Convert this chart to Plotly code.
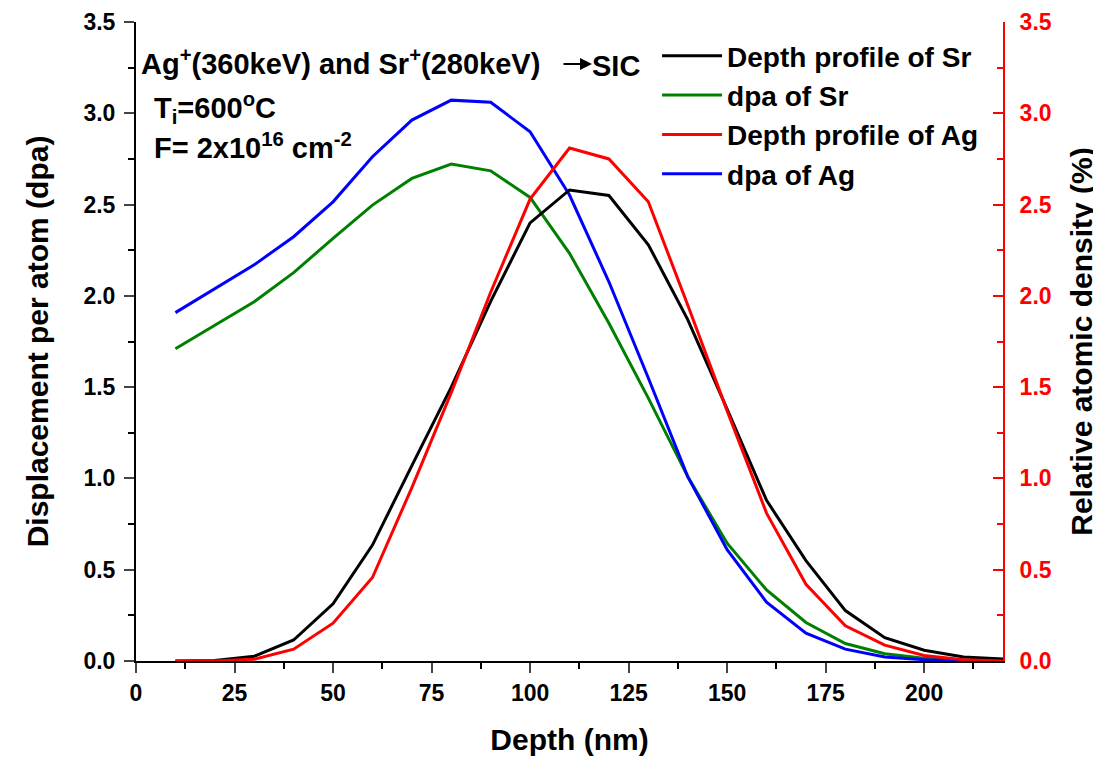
import plotly.graph_objects as go

depth = [10, 20, 30, 40, 50, 60, 70, 80, 90, 100, 110, 120, 130, 140, 150, 160, 170, 180, 190, 200, 210, 220]
sr_profile = [0.0, 0.003, 0.026, 0.115, 0.313, 0.635, 1.07, 1.50, 1.97, 2.40, 2.58, 2.55, 2.28, 1.87, 1.38, 0.88, 0.55, 0.276, 0.128, 0.059, 0.022, 0.011]
sr_dpa = [1.71, 1.84, 1.968, 2.127, 2.315, 2.497, 2.643, 2.722, 2.685, 2.539, 2.233, 1.85, 1.44, 1.01, 0.645, 0.389, 0.211, 0.096, 0.04, 0.015, 0.004, 0.0]
ag_profile = [0.0, 0.0, 0.01, 0.065, 0.207, 0.457, 0.95, 1.47, 2.02, 2.53, 2.81, 2.75, 2.515, 1.95, 1.37, 0.81, 0.42, 0.193, 0.087, 0.03, 0.007, 0.0]
ag_dpa = [1.908, 2.04, 2.17, 2.324, 2.515, 2.762, 2.963, 3.072, 3.06, 2.899, 2.552, 2.077, 1.55, 1.01, 0.61, 0.322, 0.152, 0.065, 0.022, 0.007, 0.002, 0.0]

names = ["Depth profile of Sr", "dpa of Sr", "Depth profile of Ag", "dpa of Ag"]
FONT = "Liberation Sans, Arial, sans-serif"
LW = 3

fig = go.Figure()
fig.add_trace(go.Scatter(x=depth, y=sr_profile, mode="lines", name=names[0],
                         line=dict(color="black", width=LW), yaxis="y2"))
fig.add_trace(go.Scatter(x=depth, y=sr_dpa, mode="lines", name=names[1],
                         line=dict(color="#008000", width=LW), yaxis="y"))
fig.add_trace(go.Scatter(x=depth, y=ag_profile, mode="lines", name=names[2],
                         line=dict(color="#ff0000", width=LW), yaxis="y2"))
fig.add_trace(go.Scatter(x=depth, y=ag_dpa, mode="lines", name=names[3],
                         line=dict(color="#0000ff", width=LW), yaxis="y"))

tickfont = dict(family=FONT, size=23, color="black", weight="bold")

fig.update_layout(
    width=1093, height=751,
    margin=dict(l=128, r=98, t=14, b=98, autoexpand=False),
    paper_bgcolor="white", plot_bgcolor="white",
    font=dict(family=FONT, color="black"),
    xaxis=dict(
        range=[0, 220], tick0=0, dtick=25, ticks="outside", ticklen=10, tickwidth=2,
        minor=dict(dtick=12.5, ticks="outside", ticklen=6, tickwidth=2, tickcolor="black"),
        showline=True, linecolor="black", linewidth=2, showgrid=False, zeroline=False,
        tickfont=tickfont, automargin=False,
        title=dict(text="<b>Depth (nm)</b>", font=dict(family=FONT, size=30), standoff=24),
    ),
    xaxis2=dict(
        range=[0, 220], overlaying="x", side="top", tick0=0, dtick=22, ticks="inside",
        ticklen=7, tickwidth=2, showticklabels=False, showline=True, linecolor="black",
        linewidth=2, showgrid=False, zeroline=False, automargin=False,
    ),
    yaxis=dict(
        range=[0, 3.5], tick0=0, dtick=0.5, tickformat=".1f", ticks="outside", ticklen=10,
        tickwidth=2, minor=dict(dtick=0.25, ticks="outside", ticklen=6, tickwidth=2, tickcolor="black"),
        showline=True, linecolor="black", linewidth=2, showgrid=False, zeroline=False,
        tickfont=tickfont, automargin=False, ticklabelstandoff=4,
        title=dict(text="<b>Displacement per atom (dpa)</b>", font=dict(family=FONT, size=30), standoff=26),
    ),
    yaxis2=dict(
        range=[0, 3.5], overlaying="y", side="right", tick0=0, dtick=0.5, tickformat=".1f",
        ticks="inside", ticklen=10, tickwidth=2, tickcolor="red",
        minor=dict(dtick=0.25, ticks="inside", ticklen=6, tickwidth=2, tickcolor="red"),
        showline=True, linecolor="red", linewidth=2, showgrid=False, zeroline=False,
        tickfont=dict(family=FONT, size=23, color="red", weight="bold"), automargin=False,
        ticklabelstandoff=10,
        title=dict(text="<b>Relative atomic density (%)</b>", font=dict(family=FONT, size=30, color="black"), standoff=20),
    ),
    legend=dict(
        x=0.601, y=0.986, xanchor="left", yanchor="top", bgcolor="rgba(0,0,0,0)",
        font=dict(family=FONT, size=28, color="black"), tracegroupgap=0, itemwidth=60,
    ),
    showlegend=True,
)

for t in fig.data:
    t.name = "<b>" + t.name + "</b>"

ann_font = dict(family=FONT, size=29, color="black")
fig.add_annotation(xref="paper", yref="paper", x=0.004, y=(661 - 62) / 639, xanchor="left", yanchor="middle",
                   text="<b>Ag<sup>+</sup>(360keV) and Sr<sup>+</sup>(280keV)</b>", showarrow=False, font=ann_font)
fig.add_annotation(xref="paper", yref="paper", x=(592 - 136) / 867, y=(661 - 64) / 639,
                   ax=-30, ay=0, text="", showarrow=True, arrowhead=2, arrowsize=1.2, arrowwidth=2,
                   arrowcolor="black")
fig.add_annotation(xref="paper", yref="paper", x=(590 - 136) / 867, y=(661 - 66) / 639, xanchor="left",
                   yanchor="middle", text="<b>SIC</b>", showarrow=False, font=ann_font)
fig.add_annotation(xref="paper", yref="paper", x=(152 - 136) / 867, y=(661 - 108) / 639, xanchor="left",
                   yanchor="middle", text="<b>T<sub>i</sub>=600<sup>o</sup>C</b>", showarrow=False, font=ann_font)
fig.add_annotation(xref="paper", yref="paper", x=(152 - 136) / 867, y=(661 - 146) / 639, xanchor="left",
                   yanchor="middle", text="<b>F= 2x10<sup>16</sup> cm<sup>-2</sup></b>", showarrow=False, font=ann_font)

fig.write_html("out.html")
